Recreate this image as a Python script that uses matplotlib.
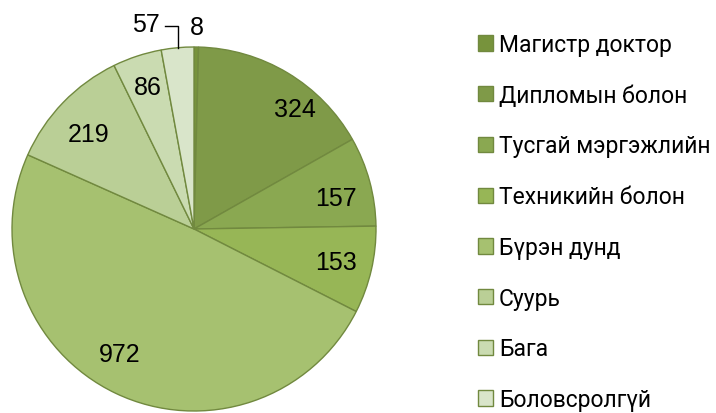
import matplotlib.pyplot as plt
import numpy as np

# Education level counts (clockwise from top)
categories = ['Магистр доктор', 'Дипломын болон', 'Тусгай мэргэжлийн',
              'Техникийн болон', 'Бүрэн дунд', 'Суурь', 'Бага', 'Боловсролгүй']
values = [8, 324, 157, 153, 972, 219, 86, 57]
colors = ['#77933c', '#7f9a48', '#8aa851', '#97b656', '#a6c170',
          '#bacf96', '#cadbb1', '#d9e5ca']

# label placement: radius fraction and angle nudge (deg)
label_r = [1.11, 0.86, 0.80, 0.80, 0.80, 0.78, 0.82, 1.18]
label_dt = [0, -9, -3, 0, -5, 2, 0, 0]

fig = plt.figure(figsize=(7.16, 4.14), dpi=100)
W, H = 716, 414
cx, cy, r = 194, 230, 182
ax = fig.add_axes([(cx - r) / W, (H - cy - r) / H, 2 * r / W, 2 * r / H])

wedges, _ = ax.pie(values, colors=colors, startangle=90, counterclock=False,
                   wedgeprops=dict(edgecolor='#71893f', linewidth=1.0))
ax.set_xlim(-1, 1)
ax.set_ylim(-1, 1)
ax.set_aspect('equal')
ax.axis('off')

for i, w in enumerate(wedges):
    mid = np.deg2rad((w.theta1 + w.theta2) / 2 + label_dt[i])
    x = label_r[i] * np.cos(mid)
    y = label_r[i] * np.sin(mid)
    if i == len(wedges) - 1:
        # outside label with leader line
        ex, ey = np.cos(mid), np.sin(mid)
        ax.plot([ex, ex, ex - 0.07], [ey, ey + 0.12, ey + 0.12],
                color='black', lw=1, clip_on=False)
        x, y = ex - 0.095, ey + 0.13
        ax.text(x, y, str(values[i]), ha='right', va='center',
                fontsize=18, family='Liberation Sans')
        continue
    ax.text(x, y, str(values[i]), ha='center', va='center',
            fontsize=18, family='Liberation Sans')

leg = fig.legend(wedges, categories, loc='upper left',
                 bbox_to_anchor=(462 / W, 1 - 18 / H), frameon=False,
                 handlelength=0.65, handleheight=0.65, handletextpad=0.25,
                 labelspacing=1.21, borderpad=0.2,
                 prop=dict(family='Roboto', size=16.5))

fig.savefig('out.png', dpi=100)
